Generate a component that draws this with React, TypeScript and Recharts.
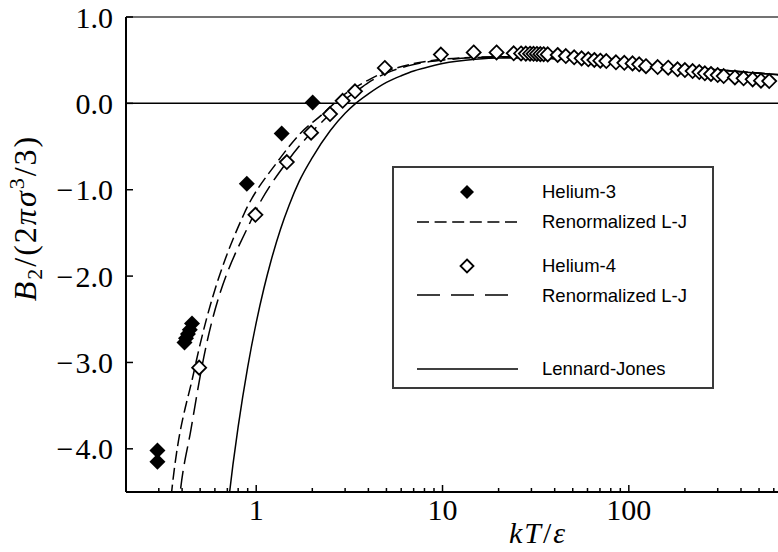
import React from 'react';
import { ComposedChart, Line, Scatter, XAxis, YAxis, ReferenceLine, Legend } from 'recharts';

// reduced temperature kT/eps and reduced second virial coefficient B2/(2 pi sigma^3 / 3)
const helium3 = [
  { t: 0.295, b: -4.02 },
  { t: 0.295, b: -4.15 },
  { t: 0.412, b: -2.77 },
  { t: 0.42, b: -2.72 },
  { t: 0.43, b: -2.67 },
  { t: 0.44, b: -2.62 },
  { t: 0.452, b: -2.55 },
  { t: 0.89, b: -0.93 },
  { t: 1.37, b: -0.35 },
  { t: 2.01, b: 0.01 },
];

const helium4 = [
  { t: 0.494, b: -3.06 }, { t: 0.99, b: -1.29 }, { t: 1.46, b: -0.68 }, { t: 1.97, b: -0.34 },
  { t: 2.49, b: -0.124 }, { t: 2.91, b: 0.03 }, { t: 3.39, b: 0.14 }, { t: 4.9, b: 0.41 },
  { t: 9.8, b: 0.565 }, { t: 14.7, b: 0.59 }, { t: 19.5, b: 0.59 }, { t: 24.1, b: 0.58 },
  { t: 26.4, b: 0.578 }, { t: 28.0, b: 0.576 }, { t: 29.5, b: 0.575 }, { t: 30.8, b: 0.574 },
  { t: 32.1, b: 0.572 }, { t: 33.5, b: 0.57 }, { t: 34.9, b: 0.569 }, { t: 36.7, b: 0.567 },
  { t: 41.5, b: 0.56 }, { t: 45.9, b: 0.548 }, { t: 50.9, b: 0.533 }, { t: 55.8, b: 0.521 },
  { t: 60.6, b: 0.51 }, { t: 65.3, b: 0.502 }, { t: 70.3, b: 0.494 }, { t: 75.7, b: 0.49 },
  { t: 85.3, b: 0.475 }, { t: 94.6, b: 0.47 }, { t: 104.7, b: 0.463 }, { t: 113.7, b: 0.452 },
  { t: 123.6, b: 0.43 }, { t: 142.8, b: 0.42 }, { t: 162.7, b: 0.413 }, { t: 182.7, b: 0.394 },
  { t: 200, b: 0.386 }, { t: 220, b: 0.374 }, { t: 239, b: 0.363 }, { t: 256, b: 0.348 },
  { t: 276, b: 0.34 }, { t: 300, b: 0.328 }, { t: 323, b: 0.316 }, { t: 371, b: 0.3 },
  { t: 413, b: 0.29 }, { t: 462, b: 0.278 }, { t: 512, b: 0.262 }, { t: 567, b: 0.258 },
];

const renormHe3 = [
  { t: 0.342, b: -4.75 }, { t: 0.3515, b: -4.5 }, { t: 0.465, b: -3.09 }, { t: 0.862, b: -1.275 },
  { t: 1.3, b: -0.677 }, { t: 1.74, b: -0.34 }, { t: 2.27, b: -0.124 }, { t: 2.62, b: 0 },
  { t: 3.0, b: 0.11 }, { t: 3.5, b: 0.2 }, { t: 4, b: 0.27 }, { t: 5, b: 0.37 },
  { t: 7, b: 0.46 }, { t: 10, b: 0.51 }, { t: 15, b: 0.535 }, { t: 20, b: 0.54 },
  { t: 30, b: 0.533 }, { t: 50, b: 0.51 }, { t: 100, b: 0.466 }, { t: 200, b: 0.42 },
  { t: 400, b: 0.368 }, { t: 632, b: 0.333 },
];

const renormHe4 = [
  { t: 0.38, b: -4.75 }, { t: 0.391, b: -4.5 }, { t: 0.446, b: -3.78 }, { t: 0.51, b: -3.06 },
  { t: 0.95, b: -1.33 }, { t: 1.46, b: -0.68 }, { t: 1.97, b: -0.34 }, { t: 2.49, b: -0.124 },
  { t: 2.9, b: 0.02 }, { t: 3.4, b: 0.13 }, { t: 4, b: 0.24 }, { t: 5, b: 0.35 },
  { t: 7, b: 0.45 }, { t: 10, b: 0.5 }, { t: 15, b: 0.53 }, { t: 20, b: 0.535 },
  { t: 30, b: 0.53 }, { t: 50, b: 0.508 }, { t: 100, b: 0.465 }, { t: 200, b: 0.418 },
  { t: 400, b: 0.367 }, { t: 632, b: 0.332 },
];

const lennardJones = [
  { t: 0.7, b: -4.717 }, { t: 0.75, b: -4.184 }, { t: 0.8, b: -3.743 }, { t: 0.9, b: -3.053 },
  { t: 1.0, b: -2.538 }, { t: 1.1, b: -2.141 }, { t: 1.2, b: -1.825 }, { t: 1.35, b: -1.457 },
  { t: 1.5, b: -1.182 }, { t: 1.7, b: -0.904 }, { t: 2.0, b: -0.628 }, { t: 2.5, b: -0.315 },
  { t: 3.0, b: -0.115 }, { t: 3.42, b: 0 }, { t: 4, b: 0.11 }, { t: 5, b: 0.243 },
  { t: 6, b: 0.32 }, { t: 7, b: 0.375 }, { t: 8, b: 0.41 }, { t: 10, b: 0.461 },
  { t: 15, b: 0.51 }, { t: 20, b: 0.525 }, { t: 30, b: 0.525 }, { t: 50, b: 0.505 },
  { t: 100, b: 0.462 }, { t: 200, b: 0.415 }, { t: 400, b: 0.365 }, { t: 632, b: 0.33 },
];

const xMajor = [1, 10, 100];
const xMinor = [0.3, 0.4, 0.5, 0.6, 0.7, 0.8, 0.9, 2, 3, 4, 5, 6, 7, 8, 9, 20, 30, 40, 50, 60, 70, 80, 90, 200, 300, 400, 500, 600];
const yTicks = [-4, -3, -2, -1, 0, 1];

const serif = '"Liberation Serif", "Times New Roman", serif';
const sans = '"Liberation Sans", Arial, sans-serif';

const diamond = (cx: number, cy: number, r: number) =>
  `M${cx},${cy - r}L${cx + r},${cy}L${cx},${cy + r}L${cx - r},${cy}Z`;

const FilledDiamond = (props: any) => <path d={diamond(props.cx, props.cy, 8)} fill="#000" />;
const OpenDiamond = (props: any) => (
  <path d={diamond(props.cx, props.cy, 7)} fill="#fff" stroke="#000" strokeWidth={1.8} />
);

const XTick = (props: any) => {
  const { x, y, payload } = props;
  const major = xMajor.includes(payload.value);
  return (
    <g>
      <line x1={x} x2={x} y1={y} y2={y - (major ? 7 : 4)} stroke="#000" strokeWidth={1.5} />
      {major && (
        <text x={x} y={y + 28} textAnchor="middle" fontFamily={serif} fontSize={30} fill="#000">
          {payload.value}
        </text>
      )}
    </g>
  );
};

const YTick = (props: any) => {
  const { x, y, payload } = props;
  const v: number = payload.value;
  return (
    <g>
      <line x1={x} x2={x + 7} y1={y} y2={y} stroke="#000" strokeWidth={1.5} />
      <text x={x - 13} y={y + 10.5} textAnchor="end" fontFamily={serif} fontSize={30} fill="#000">
        {v < 0 && <tspan>−</tspan>}
        <tspan dx={v < 0 ? 2 : 0}>{Math.abs(v).toFixed(1)}</tspan>
      </text>
    </g>
  );
};

const XTitle = (props: any) => {
  const vb = props.viewBox;
  return (
    <text x={vb.x + 412} y={vb.y + 51} textAnchor="middle" fontFamily={serif} fontSize={30} letterSpacing={2} fill="#000">
      <tspan fontStyle="italic">kT</tspan>
      <tspan>/</tspan>
      <tspan fontStyle="italic">ε</tspan>
    </text>
  );
};

const YTitle = (props: any) => {
  const vb = props.viewBox;
  const cx = vb.x + 36;
  const cy = vb.y + 201;
  return (
    <text
      x={cx}
      y={cy}
      transform={`rotate(-90, ${cx}, ${cy})`}
      textAnchor="middle"
      fontFamily={serif}
      fontSize={32}
      letterSpacing={2}
      fill="#000"
    >
      <tspan fontStyle="italic">B</tspan>
      <tspan dy={6} fontSize={22}>2</tspan>
      <tspan dy={-6}>/(2</tspan>
      <tspan fontStyle="italic">πσ</tspan>
      <tspan dy={-12} fontSize={22}>3</tspan>
      <tspan dy={12}>/3)</tspan>
    </text>
  );
};

const LegendBox = () => (
  <svg width={322} height={223} style={{ display: 'block' }}>
    <rect x={1} y={1} width={320} height={221} fill="#fff" stroke="#3a3a3a" strokeWidth={2} />
    <path d={diamond(75, 26, 7)} fill="#000" />
    <line x1={25} x2={125} y1={56} y2={56} stroke="#000" strokeWidth={1.5} strokeDasharray="12 5.6" />
    <path d={diamond(75, 100, 6.5)} fill="#fff" stroke="#000" strokeWidth={1.8} />
    <line x1={25} x2={116} y1={129} y2={129} stroke="#000" strokeWidth={1.5} strokeDasharray="23 11" />
    <line x1={25} x2={126} y1={203} y2={203} stroke="#000" strokeWidth={1.5} />
    <g fontFamily={sans} fontSize={18.5} fill="#000">
      <text x={150} y={32.3}>Helium-3</text>
      <text x={150} y={62.3}>Renormalized L-J</text>
      <text x={150} y={105.7}>Helium-4</text>
      <text x={150} y={135.7}>Renormalized L-J</text>
      <text x={150} y={209}>Lennard-Jones</text>
    </g>
  </svg>
);

export default function App() {
  return (
    <div style={{ position: 'absolute', left: 0, top: 0, width: 778, height: 552, background: '#fff' }}>
      <ComposedChart width={778} height={552} margin={{ top: 17, right: 0, bottom: 0, left: 0 }}>
        <XAxis
          type="number"
          dataKey="t"
          scale="log"
          domain={[0.2, 632]}
          allowDataOverflow
          ticks={[...xMinor, ...xMajor].sort((a, b) => a - b)}
          interval={0}
          height={60}
          tickSize={0}
          tickMargin={0}
          tickLine={false}
          tick={<XTick />}
          axisLine={{ stroke: '#000', strokeWidth: 2 }}
          label={{ content: <XTitle /> }}
        />
        <YAxis
          type="number"
          dataKey="b"
          domain={[-4.5, 1]}
          allowDataOverflow
          ticks={yTicks}
          interval={0}
          width={126}
          tickSize={0}
          tickMargin={0}
          tickLine={false}
          tick={<YTick />}
          axisLine={{ stroke: '#000', strokeWidth: 2 }}
          label={{ content: <YTitle /> }}
        />
        <ReferenceLine y={1} stroke="#444" strokeWidth={1.5} />
        <ReferenceLine y={0} stroke="#000" strokeWidth={1.5} />
        <Line data={lennardJones} dataKey="b" type="monotone" stroke="#000" strokeWidth={1.5} dot={false} isAnimationActive={false} />
        <Line data={renormHe3} dataKey="b" type="monotone" stroke="#000" strokeWidth={1.5} strokeDasharray="12 5" dot={false} isAnimationActive={false} />
        <Line data={renormHe4} dataKey="b" type="monotone" stroke="#000" strokeWidth={1.5} strokeDasharray="18 7" dot={false} isAnimationActive={false} />
        <Scatter data={helium4} dataKey="b" shape={<OpenDiamond />} isAnimationActive={false} />
        <Scatter data={helium3} dataKey="b" shape={<FilledDiamond />} isAnimationActive={false} />
        <Legend
          layout="vertical"
          align="center"
          verticalAlign="middle"
          wrapperStyle={{ left: 392, top: 166, width: 322, height: 223 }}
          content={() => <LegendBox />}
        />
      </ComposedChart>
    </div>
  );
}
